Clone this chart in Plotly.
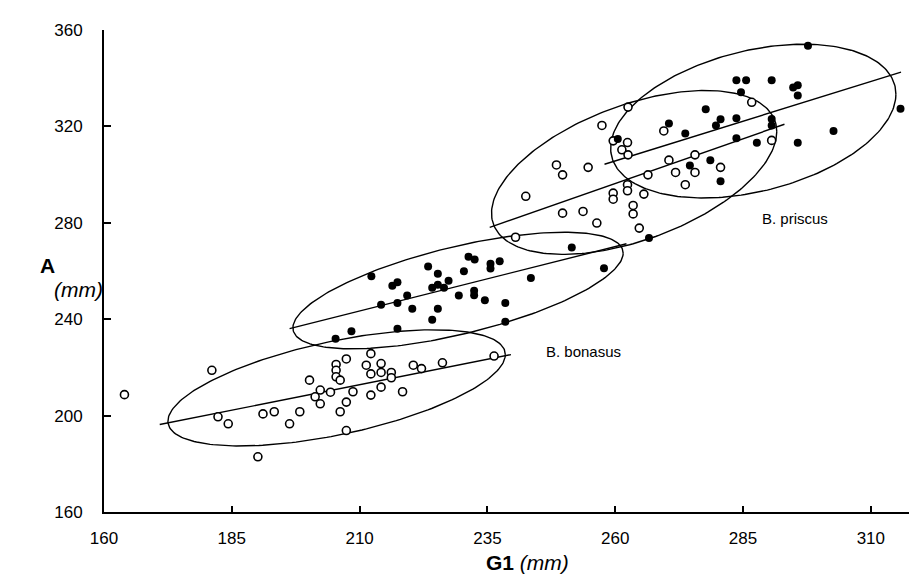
import numpy as np
import plotly.graph_objects as go

# ---- data (G1 mm, A mm) ----
open_x = [164.0, 181.1, 182.3, 184.3, 190.1, 191.1, 193.3, 196.3, 198.3, 200.2,
          202.3, 201.3, 202.3, 204.3, 205.4, 205.4, 205.4, 206.2, 207.4, 207.4,
          206.2, 207.4, 208.7, 211.3, 212.2, 212.2, 212.2, 214.2, 214.2, 214.2,
          216.2, 216.2, 218.4, 220.5, 222.1, 226.2, 236.3,
          262.5, 257.4, 269.5, 259.6, 262.4, 261.3, 262.5, 248.5, 249.7, 254.7,
          270.5, 275.6, 266.4, 271.8, 275.6, 280.6, 273.7, 242.5, 262.4, 262.4,
          259.6, 259.6, 265.6, 249.7, 253.7, 263.5, 263.5, 256.4, 264.7, 240.5,
          286.7, 290.6]
open_y = [208.7, 218.8, 199.5, 196.6, 182.9, 200.7, 201.6, 196.6, 201.6, 214.7,
          210.6, 207.8, 204.9, 209.7, 221.2, 218.8, 216.1, 214.7, 223.5, 205.6,
          201.6, 193.8, 209.9, 220.9, 225.7, 217.3, 208.5, 221.6, 217.9, 211.8,
          217.9, 215.7, 209.9, 220.9, 219.5, 221.9, 224.7,
          328.0, 320.4, 318.1, 314.0, 313.3, 310.3, 308.2, 304.0, 299.9, 303.0,
          306.0, 308.2, 299.9, 300.9, 300.9, 303.0, 295.8, 291.0, 295.8, 293.3,
          292.3, 289.8, 291.9, 284.0, 284.7, 287.2, 283.7, 279.9, 277.8, 274.0,
          330.0, 314.2]

filled_x = [212.3, 223.4, 225.3, 216.4, 217.4, 219.3, 214.2, 217.4, 220.3, 224.2,
            225.3, 226.5, 227.4, 230.4, 231.3, 232.5, 235.6, 235.6, 237.4, 229.4,
            232.4, 232.4, 234.5, 238.5, 243.5, 225.3, 224.2, 217.4, 208.4, 205.3,
            238.5, 251.5, 257.8,
            266.6, 260.5, 270.5, 273.7, 277.7, 280.6, 279.7, 278.6, 274.6, 280.6,
            297.7, 283.7, 285.6, 290.6, 294.8, 295.7, 295.7, 284.6, 283.7, 290.6,
            290.6, 283.7, 287.7, 295.7, 302.7, 315.8]
filled_y = [257.8, 261.9, 258.9, 253.9, 255.3, 249.8, 246.0, 246.7, 244.3, 253.0,
            254.3, 253.0, 256.0, 259.9, 265.9, 264.8, 263.0, 261.0, 264.0, 249.8,
            251.8, 249.9, 247.9, 246.7, 257.1, 244.3, 239.8, 236.0, 235.0, 231.9,
            238.9, 269.8, 261.1,
            273.7, 314.8, 321.2, 317.1, 327.1, 323.0, 320.4, 306.0, 303.8, 297.2,
            353.5, 339.2, 339.2, 339.2, 336.1, 337.1, 332.8, 334.2, 323.4, 323.1,
            320.4, 315.1, 313.2, 313.2, 318.1, 327.3]

# regression lines: x range, slope, intercept
reg_x0 = [170.9, 196.3, 235.45, 257.9]
reg_x1 = [239.6, 262.2, 293.1, 315.9]
reg_slope = [0.4221, 0.5341, 0.7424, 0.6586]
reg_icept = [124.16, 131.25, 103.3, 134.45]

# ellipses: centre, half x-extent, y offset at x-extreme, half y-extent
ell_cx = [205.5, 229.25, 263.7, 287.0]
ell_cy = [211.5, 251.9, 300.9, 322.2]
ell_a = [33.0, 32.3, 27.9, 27.9]
ell_b = [13.8, 15.5, 16.95, 11.2]
ell_h = [24.1, 24.2, 34.0, 31.9]

group_labels = ["B. bonasus", "B. priscus"]
label_x = [253.7, 295.2]
label_y = [226.4, 281.7]

x_ticks = [160, 185, 210, 235, 260, 285, 310]
y_ticks = [160, 200, 240, 280, 320, 360]

FONT = "Arial, Liberation Sans, sans-serif"

fig = go.Figure()

t = np.linspace(0, 2 * np.pi, 240)
for cx, cy, a, b, h in zip(ell_cx, ell_cy, ell_a, ell_b, ell_h):
    c = np.sqrt(max(h * h - b * b, 0.0))
    fig.add_trace(go.Scatter(x=cx + a * np.cos(t), y=cy + b * np.cos(t) + c * np.sin(t),
                             mode="lines", line=dict(color="black", width=1.4),
                             hoverinfo="skip", showlegend=False))

for x0, x1, s, k in zip(reg_x0, reg_x1, reg_slope, reg_icept):
    fig.add_trace(go.Scatter(x=[x0, x1], y=[s * x0 + k, s * x1 + k], mode="lines",
                             line=dict(color="black", width=1.4),
                             hoverinfo="skip", showlegend=False))

fig.add_trace(go.Scatter(x=open_x, y=open_y, mode="markers", showlegend=False,
                         marker=dict(symbol="circle", size=8, color="white",
                                     line=dict(color="black", width=1.6))))
fig.add_trace(go.Scatter(x=filled_x, y=filled_y, mode="markers", showlegend=False,
                         marker=dict(symbol="circle", size=8, color="black",
                                     line=dict(color="black", width=0))))

for txt, lx, ly in zip(group_labels, label_x, label_y):
    fig.add_annotation(x=lx, y=ly, text=txt, showarrow=False,
                       font=dict(family=FONT, size=15, color="black"))

fig.add_annotation(xref="paper", yref="paper", x=0.5165, y=-0.132,
                   text="<b>G1</b> <i>(mm)</i>", showarrow=False,
                   font=dict(family=FONT, size=21, color="black"))
fig.add_annotation(xref="paper", yref="paper", x=-0.0806, y=0.5124,
                   text="<b>A</b>", showarrow=False,
                   font=dict(family=FONT, size=21, color="black"))
fig.add_annotation(xref="paper", yref="paper", x=-0.0638, y=0.461,
                   text="<i>(mm)</i>", showarrow=False,
                   font=dict(family=FONT, size=21, color="black"))

fig.update_layout(
    width=917, height=585,
    margin=dict(l=96, r=2, t=22, b=81),
    paper_bgcolor="white", plot_bgcolor="white",
    font=dict(family=FONT, color="black"),
    xaxis=dict(range=[160, 320.2], tickvals=x_ticks, showgrid=False, zeroline=False,
               showline=True, linecolor="black", linewidth=2,
               ticks="inside", ticklen=6, tickwidth=2, tickcolor="black",
               tickfont=dict(family=FONT, size=17, color="black"),
               ticklabelstandoff=10),
    yaxis=dict(range=[160, 360], tickvals=y_ticks, showgrid=False, zeroline=False,
               showline=True, linecolor="black", linewidth=2,
               ticks="inside", ticklen=7, tickwidth=2, tickcolor="black",
               tickfont=dict(family=FONT, size=17, color="black"),
               ticklabelstandoff=16),
)

fig.write_html("out.html")
